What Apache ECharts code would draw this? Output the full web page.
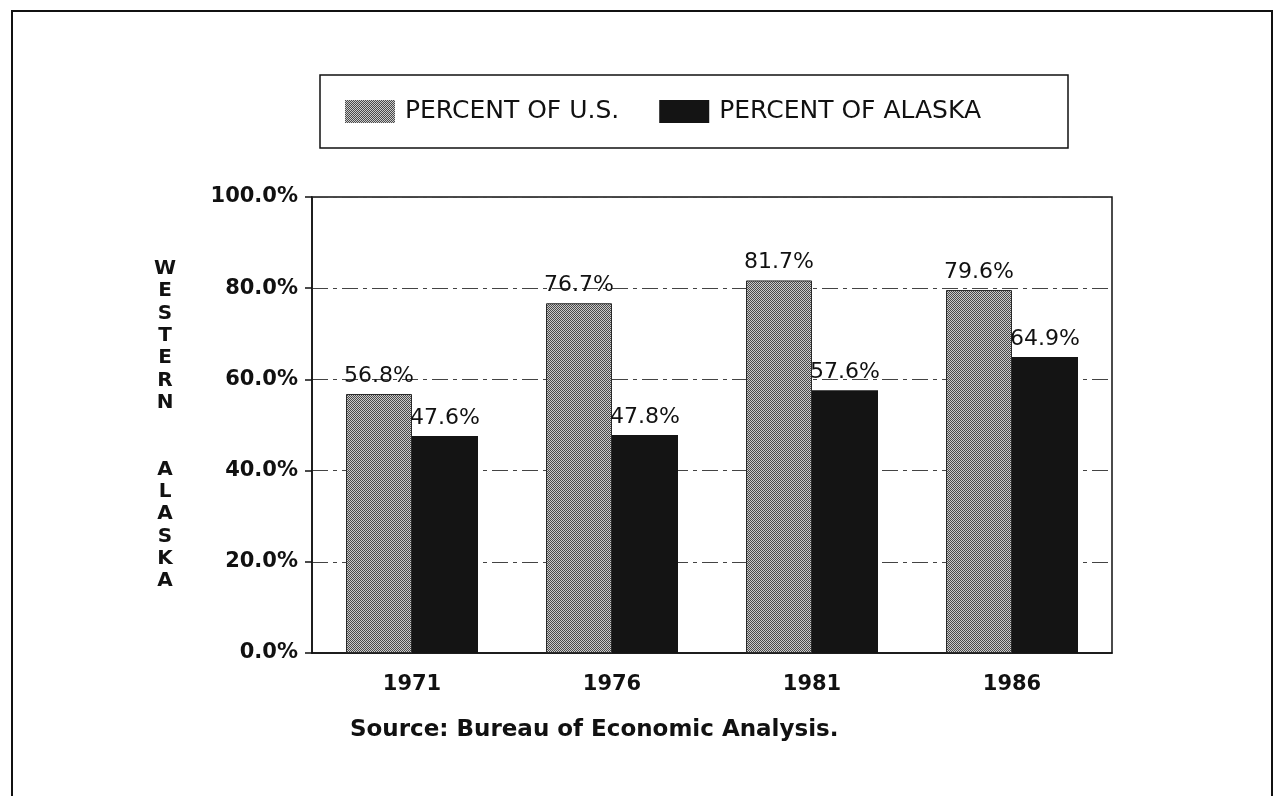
<!DOCTYPE html>
<html>
<head>
<meta charset="utf-8">
<title>Western Alaska share</title>
<script src="https://cdn.jsdelivr.net/npm/echarts@6/dist/echarts.min.js"></script>
<style>
  html, body { margin: 0; padding: 0; background: #fff; }
  #chart { width: 1278px; height: 796px; }
</style>
</head>
<body>
<div id="chart"></div>
<script>
// values
const years = ['1971', '1976', '1981', '1986'];
const pctOfUS = [56.8, 76.7, 81.7, 79.6];
const pctOfAlaska = [47.6, 47.8, 57.6, 64.9];
const seriesNames = ['PERCENT OF U.S.', 'PERCENT OF ALASKA'];
const yTitle = 'WESTERN  ALASKA';
const sourceNote = 'Source: Bureau of Economic Analysis.';

const INK = '#111';
const FONT = '"DejaVu Sans", sans-serif';

// stippled grey fill for the U.S. bars
function dotPattern() {
  const c = document.createElement('canvas');
  c.width = 4;
  c.height = 4;
  const ctx = c.getContext('2d');
  ctx.fillStyle = '#cbcbcb';
  ctx.fillRect(0, 0, 4, 4);
  ctx.fillStyle = '#4a4a4a';
  for (let x = 0; x < 4; x++) {
    for (let y = 0; y < 4; y++) {
      if ((x + y) % 2 === 0) ctx.fillRect(x, y, 1, 1);
    }
  }
  return { image: c, repeat: 'repeat' };
}

// letters stacked one per line, blank lines between the two words
const stackedTitle = yTitle.split('').map(ch => ch === ' ' ? '' : ch).join('\n');

const pctLabel = p => p.value.toFixed(1) + '%';

const chart = echarts.init(document.getElementById('chart'));

chart.setOption({
  backgroundColor: '#fff',
  animation: false,
  graphic: [
    {
      // outer page frame
      type: 'rect',
      shape: { x: 12, y: 11, width: 1260, height: 820 },
      style: { fill: 'none', stroke: INK, lineWidth: 2 },
      silent: true
    },
    {
      // legend box
      type: 'rect',
      shape: { x: 320, y: 75, width: 748, height: 73 },
      style: { fill: 'none', stroke: INK, lineWidth: 1.5 },
      silent: true
    },
    {
      type: 'text',
      left: 350,
      top: 719,
      style: { text: sourceNote, font: 'bold 23px ' + FONT, fill: INK }
    }
  ],
  legend: {
    data: seriesNames,
    left: 345,
    top: 99,
    padding: 0,
    itemWidth: 50,
    itemHeight: 23,
    itemGap: 40,
    icon: 'rect',
    itemStyle: { borderWidth: 0 },
    textStyle: {
      fontFamily: FONT,
      fontSize: 25,
      color: INK,
      lineHeight: 23,
      padding: [0, 0, 0, 5]
    }
  },
  grid: {
    left: 312,
    right: 166,
    top: 197,
    bottom: 143,
    show: true,
    borderColor: INK,
    borderWidth: 1.5
  },
  xAxis: {
    type: 'category',
    data: years,
    axisLine: { lineStyle: { color: INK, width: 1.5 } },
    axisTick: { show: false },
    axisLabel: {
      margin: 21,
      fontFamily: FONT,
      fontWeight: 'bold',
      fontSize: 21,
      color: INK
    }
  },
  yAxis: {
    type: 'value',
    min: 0,
    max: 100,
    interval: 20,
    name: stackedTitle,
    nameLocation: 'middle',
    nameRotate: 0,
    nameGap: 147,
    nameTextStyle: {
      fontFamily: FONT,
      fontWeight: 'bold',
      fontSize: 20,
      lineHeight: 22.3,
      color: INK,
      align: 'center',
      verticalAlign: 'middle'
    },
    axisLine: { show: true, lineStyle: { color: INK, width: 1.5 } },
    axisTick: { show: true, length: 7, lineStyle: { color: INK, width: 1.5 } },
    axisLabel: {
      margin: 14,
      fontFamily: FONT,
      fontWeight: 'bold',
      fontSize: 21,
      color: INK,
      formatter: v => v.toFixed(1) + '%'
    },
    splitLine: {
      lineStyle: { color: '#444', width: 1, type: [16, 5, 4, 5] }
    }
  },
  series: [
    {
      name: seriesNames[0],
      type: 'bar',
      data: pctOfUS,
      barWidth: '33%',
      barGap: '0%',
      itemStyle: { color: dotPattern(), borderColor: '#2a2a2a', borderWidth: 1 },
      label: {
        show: true,
        position: 'top',
        distance: 7,
        formatter: pctLabel,
        fontFamily: FONT,
        fontSize: 22,
        color: INK
      }
    },
    {
      name: seriesNames[1],
      type: 'bar',
      data: pctOfAlaska,
      barWidth: '33%',
      itemStyle: { color: '#141414' },
      label: {
        show: true,
        position: 'top',
        distance: 7,
        formatter: pctLabel,
        fontFamily: FONT,
        fontSize: 22,
        color: INK
      }
    }
  ]
});
</script>
</body>
</html>
